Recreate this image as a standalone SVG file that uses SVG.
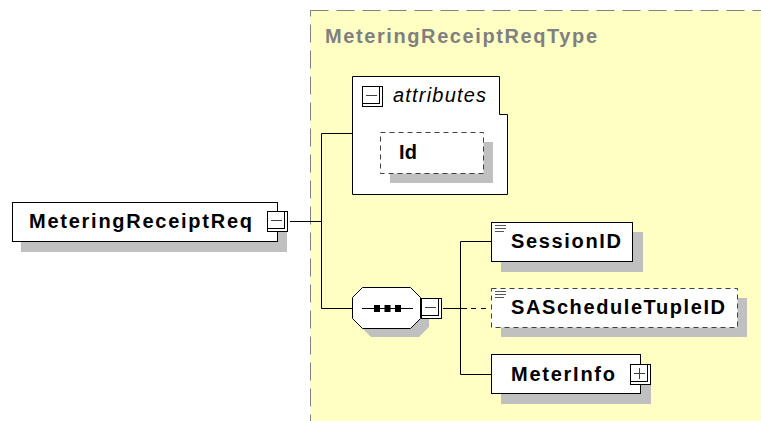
<svg xmlns="http://www.w3.org/2000/svg" width="761" height="421" viewBox="0 0 761 421">
<defs>
<style>
.lbl{font-family:"Liberation Sans",Arial,sans-serif;font-weight:bold;font-size:20px;fill:#000}
.ttl{font-family:"Liberation Sans",Arial,sans-serif;font-weight:bold;font-size:20px;fill:#808080}
.ital{font-family:"Liberation Sans",Arial,sans-serif;font-style:italic;font-size:20px;fill:#000}
.box{fill:#fff;stroke:#000;stroke-width:1}
.dbox{fill:#fff;stroke:#404040;stroke-width:1;stroke-dasharray:5,4}
.shadow{fill:#c0c0c0;stroke:none}
.conn{fill:none;stroke:#000;stroke-width:1}
.ibox{fill:#fff;stroke:#000;stroke-width:1}
.isym{stroke:#404040;stroke-width:1;fill:none}
.doc{stroke:#555;stroke-width:1}
</style>
<g id="minusIcon">
<rect class="ibox" x="0.5" y="0.5" width="20" height="20"/>
<rect class="ibox" x="0.5" y="0.5" width="17" height="17"/>
<line class="isym" x1="4" y1="9.5" x2="15" y2="9.5"/>
</g>
<g id="plusIcon">
<rect class="ibox" x="0.5" y="0.5" width="20" height="20"/>
<rect class="ibox" x="0.5" y="0.5" width="17" height="17"/>
<line class="isym" x1="4" y1="9.5" x2="15" y2="9.5"/>
<line class="isym" x1="9.5" y1="4" x2="9.5" y2="15"/>
</g>
<g id="docIcon">
<line class="doc" x1="0" y1="0.5" x2="11" y2="0.5"/>
<line class="doc" x1="0" y1="3.5" x2="11" y2="3.5"/>
<line class="doc" x1="0" y1="6.5" x2="9" y2="6.5"/>
</g>
</defs>

<g id="complexType">
<rect x="310.5" y="10.5" width="470" height="430" fill="#ffffc4" stroke="#808080" stroke-width="1" stroke-dasharray="18,8"/>
<text class="ttl" x="325" y="43" textLength="272" lengthAdjust="spacing">MeteringReceiptReqType</text>
</g>

<g id="connectors">
<polyline class="conn" points="290,221.5 321.5,221.5"/>
<polyline class="conn" points="352,133.5 321.5,133.5 321.5,308.5 352,308.5"/>
<polyline class="conn" points="443,308.5 467,308.5"/>
<line class="conn" x1="471" y1="308.5" x2="491" y2="308.5" stroke-dasharray="5,5"/>
<polyline class="conn" points="491,241.5 460.5,241.5 460.5,374.5 491,374.5"/>
</g>

<g id="MeteringReceiptReq">
<rect class="shadow" x="21" y="212" width="266" height="40"/>
<rect class="box" x="12.5" y="202.5" width="265" height="39"/>
<text class="lbl" x="29" y="228" textLength="223" lengthAdjust="spacing">MeteringReceiptReq</text>
<use href="#minusIcon" x="267" y="211"/>
</g>

<g id="attributes">
<path class="box" d="M352.5,76.5 H499.5 V114.5 H507.5 V194.5 H352.5 Z"/>
<use href="#minusIcon" x="362" y="86"/>
<text class="ital" x="393" y="102" textLength="93" lengthAdjust="spacing">attributes</text>
</g>

<g id="Id">
<rect class="shadow" x="390" y="142" width="103" height="41"/>
<rect class="dbox" x="380.5" y="132.5" width="103" height="41"/>
<text class="lbl" x="399" y="159" textLength="18" lengthAdjust="spacing">Id</text>
</g>

<g id="sequence">
<polygon class="shadow" points="371,296 419,296 429,306 429,327 419,337 371,337 361,327 361,306"/>
<polygon class="box" points="362.5,287.5 410.5,287.5 420.5,297.5 420.5,318.5 410.5,328.5 362.5,328.5 352.5,318.5 352.5,297.5"/>
<line class="conn" x1="362" y1="308.5" x2="413" y2="308.5"/>
<rect x="374" y="305" width="6" height="7" fill="#000"/>
<rect x="384.5" y="305" width="6" height="7" fill="#000"/>
<rect x="395" y="305" width="6" height="7" fill="#000"/>
<use href="#minusIcon" x="421" y="298"/>
</g>

<g id="SessionID">
<rect class="shadow" x="501" y="232" width="142" height="40"/>
<rect class="box" x="491.5" y="222.5" width="141" height="39"/>
<use href="#docIcon" x="495" y="225"/>
<text class="lbl" x="511" y="248" textLength="110" lengthAdjust="spacing">SessionID</text>
</g>

<g id="SAScheduleTupleID">
<rect class="shadow" x="501" y="298" width="246" height="39"/>
<rect class="dbox" x="491.5" y="288.5" width="246" height="39"/>
<use href="#docIcon" x="495" y="291"/>
<text class="lbl" x="511" y="314" textLength="214" lengthAdjust="spacing">SAScheduleTupleID</text>
</g>

<g id="MeterInfo">
<rect class="shadow" x="501" y="364" width="150" height="40"/>
<rect class="box" x="491.5" y="354.5" width="149" height="39"/>
<text class="lbl" x="511" y="381" textLength="104" lengthAdjust="spacing">MeterInfo</text>
<use href="#plusIcon" x="630" y="364"/>
</g>
</svg>
